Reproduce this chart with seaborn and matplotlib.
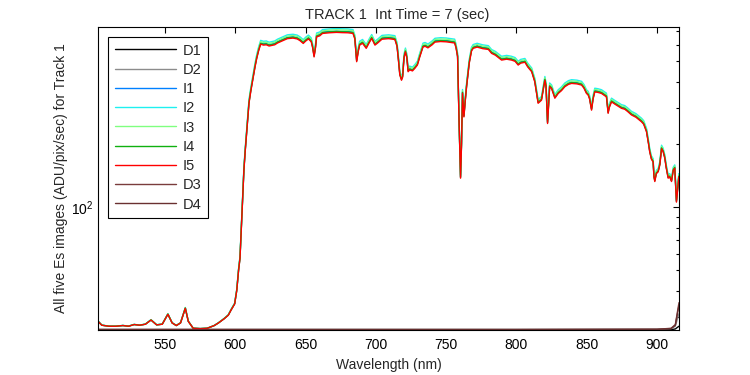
import pandas as pd
import seaborn as sns
import matplotlib.pyplot as plt
import numpy as np
from matplotlib.ticker import NullFormatter, FixedLocator

# wavelength grid (nm) and the I5 (red) Es spectrum
wavelength = [502.3, 505, 510, 515, 520, 524, 528, 532, 536, 540, 544, 548, 552, 555, 558,
              561, 564.4, 566.5, 570, 575, 580, 585, 588, 592, 595, 597, 599.5, 601, 602.3,
              603.3, 604.5, 605.3, 606.1, 607, 608, 609.7, 611, 612.8, 614, 615.2, 616.5, 618,
              620, 622, 624, 626, 628, 630, 633, 637, 641, 644, 646, 648.3, 650, 652, 654, 655,
              656, 657, 657.8, 660, 662, 667, 672, 676, 680, 683.7, 685, 686.3, 687.5, 688.4,
              690.5, 693.1, 695, 697, 699.3, 701, 704.3, 709, 713.5, 715, 715.9, 717, 718.2,
              719, 720, 721, 722, 722.9, 724, 726, 727.7, 729.5, 731.2, 733.5, 735, 737, 740,
              742, 746, 750, 754, 756, 757, 758.1, 759.2, 760.2, 760.9, 761.6, 762.6, 763.5,
              764.5, 766.4, 768, 769.2, 772, 776, 780, 782.3, 785, 789.4, 793, 796.5, 799,
              801.2, 803, 806, 808, 810.8, 813, 815.4, 817.8, 820.2, 821, 822.1, 823.6, 825,
              827.3, 829.7, 832, 834.4, 837, 839.2, 843, 846.3, 848, 849.8, 851, 852, 853.4,
              854.5, 855.7, 858, 860.5, 863, 864, 865.2, 866, 867.6, 870, 874.7, 877, 879,
              881.8, 885, 888.9, 890.5, 892.5, 894, 894.8, 896, 897.2, 897.8, 898.4, 899.5,
              900.8, 902, 903.2, 904.3, 905.5, 906.5, 907.9, 909, 910.3, 911.5, 912.6, 913.8,
              915.5]
i5 = [28.5, 27.3, 27.0, 27.0, 27.2, 27.0, 27.5, 27.3, 27.6, 28.9, 27.4, 27.6, 30.8, 28.0, 27.2,
      28.0, 32.9, 28.5, 26.4, 26.3, 26.4, 27.2, 28.0, 29.3, 30.5, 32.3, 34.5, 40, 50,
      57, 87, 115, 151, 185, 226, 315, 360, 422, 470, 516, 560, 604,
      598, 600, 592, 596, 600, 612, 625, 642, 646, 640, 628, 609, 625, 640, 620, 580,
      525, 580, 655, 662, 680, 685, 688, 686, 685, 680, 640, 498, 560, 598,
      610, 577, 610, 644, 598, 610, 638, 642, 636, 590, 516, 430, 406,
      420, 520, 555, 520, 446, 455, 450, 463, 480, 525, 586, 590, 580, 600,
      618, 622, 620, 615, 612, 580, 525, 250, 138, 200, 352, 271, 320,
      378, 490, 560, 577, 585, 575, 570, 546, 535, 507, 512, 507, 500,
      480, 490, 495, 470, 446, 399, 315, 326, 406, 380, 252, 378, 370,
      333, 351, 362, 378, 388, 392, 390, 385, 372, 351, 345, 330, 292,
      330, 357, 355, 351, 342, 338, 282, 300, 320, 312, 298, 295, 288,
      277, 270, 257, 250, 230, 200, 184, 170, 165, 140, 133, 145,
      148, 160, 191, 185, 172, 155, 138, 140, 133, 150, 154, 106,
      140]

# the other illuminated channels sit a few percent above I5 (signal above dark)
dark_level = 26.3
channel_gain = {'I1': 1.015, 'I2': 1.045, 'I3': 1.03, 'I4': 1.01, 'I5': 1.0}

# dark channels: flat at the bottom edge, lifting at the far red end
dark_wl = [502.3, 600, 700, 800, 900, 910, 913, 915.6]
d1 = [25.95, 25.95, 25.95, 25.95, 25.95, 26.0, 26.2, 27.0]
d2 = [26.1, 26.1, 26.1, 26.1, 26.15, 26.3, 27.0, 31.0]
d3 = [26.05, 26.05, 26.05, 26.05, 26.1, 26.4, 27.5, 35.0]
d4 = [26.0, 26.0, 26.0, 26.0, 26.1, 26.3, 27.3, 34.0]

order = ['D1', 'D2', 'I1', 'I2', 'I3', 'I4', 'I5', 'D3', 'D4']
colors = ['#000000', '#8c8c8c', '#0080ff', '#1ef0f0', '#80ff80', '#10b010', '#ff0000',
          '#7a3c3c', '#6a3030']

frames = []
for name, vals in zip(['D1', 'D2', 'D3', 'D4'], [d1, d2, d3, d4]):
    frames.append(pd.DataFrame({'wl': dark_wl, 'val': vals, 'chan': name}))
i5_arr = np.array(i5)
for name, g in channel_gain.items():
    frames.append(pd.DataFrame({'wl': wavelength,
                                'val': dark_level + (i5_arr - dark_level) * g,
                                'chan': name}))
df = pd.concat(frames, ignore_index=True)

sns.set_style('white')
plt.rcParams['font.family'] = ['Liberation Sans', 'DejaVu Sans']

fig = plt.figure(figsize=(7.5, 3.75), dpi=100)
ax = fig.add_axes([0.1307, 0.12, 0.7746, 0.808])

sns.lineplot(data=df, x='wl', y='val', hue='chan', hue_order=order,
             palette=dict(zip(order, colors)), linewidth=1.0, estimator=None,
             sort=False, ax=ax)

ax.set_yscale('log')
ax.set_xlim(502.3, 915.6)
ax.set_ylim(25.9, 730)
ax.xaxis.set_major_locator(FixedLocator([550, 600, 650, 700, 750, 800, 850, 900]))
ax.yaxis.set_minor_formatter(NullFormatter())

for s in ax.spines.values():
    s.set_color('black')
    s.set_linewidth(0.8)
ax.tick_params(which='both', direction='in', top=True, right=True, labelsize=10,
               colors='black')
ax.tick_params(which='major', length=4, width=0.8)
ax.tick_params(which='minor', length=2.5, width=0.8)
ax.tick_params(axis='x', which='major', pad=6)

ax.set_title('TRACK 1  Int Time = 7 (sec)', fontsize=10.5, pad=6, x=0.515)
ax.set_xlabel('Wavelength (nm)', fontsize=10, labelpad=4)
ax.set_ylabel('All five Es images (ADU/pix/sec) for Track 1', fontsize=10, labelpad=2)

leg = ax.legend(loc='upper left', bbox_to_anchor=(0.0172, 0.967), borderaxespad=0,
                fontsize=10.5, handlelength=4.2, handletextpad=0.45,
                labelspacing=0.36, borderpad=0.45,
                fancybox=False, framealpha=1, edgecolor='black')
leg.get_frame().set_linewidth(0.8)
leg.set_title(None)

fig.savefig('out.png', dpi=100)
